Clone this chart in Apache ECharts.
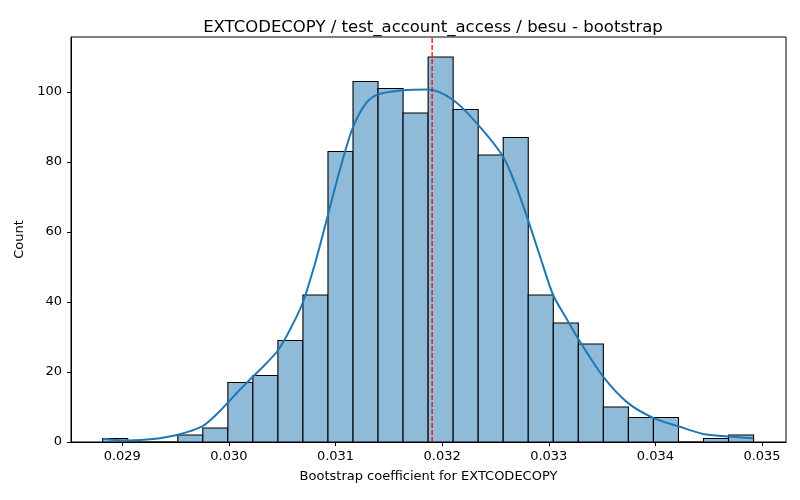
<!DOCTYPE html>
<html lang="en">

<head>
    <meta charset="UTF-8">
    <title>EXTCODECOPY bootstrap</title>
    <script src="https://cdn.jsdelivr.net/npm/echarts@6/dist/echarts.min.js"></script>
</head>

<body style="margin:0;">
    <div id="main" style="width: 800px; height: 500px;"></div>
    <script type="text/javascript">
        // histogram bins (26 bins, equal width)
        var binStart = 0.028816;
        var binWidth = 0.0002348;
        var counts = [1, 0, 0, 2, 4, 17, 19, 29, 42, 83, 103, 101, 94, 110, 95, 82, 87, 42, 34, 28, 10, 7, 7, 0, 1, 2];

        // kde curve
        var kdeX = [0.028816, 0.028932, 0.029053, 0.029288, 0.029523, 0.029635, 0.029757, 0.029870, 0.029992,
            0.030104, 0.030226, 0.030345, 0.030461, 0.030580, 0.030695, 0.030817, 0.030930, 0.031052, 0.031165,
            0.031287, 0.031399, 0.031634, 0.031869, 0.032103, 0.032338, 0.032572, 0.032694, 0.032807, 0.032929,
            0.033041, 0.033163, 0.033276, 0.033510, 0.033745, 0.033979, 0.034214, 0.034448, 0.034683, 0.034917];
        var kdeY = [0.9, 0.6, 0.45, 0.85, 2.1, 3.1, 4.6, 7.5, 11.3,
            15.0, 18.7, 22.3, 26.2, 32.5, 40, 52, 65, 79, 90,
            96.8, 99.3, 100.5, 100.7, 97.7, 90.6, 81.5, 73, 63.3, 52,
            42, 35.4, 29.5, 18.7, 11.1, 6.9, 4.5, 2.3, 1.6, 1.1];

        // mean line (dashed red)
        var meanValue = 0.031906;

        var xTicks = [0.029, 0.030, 0.031, 0.032, 0.033, 0.034, 0.035];
        var yTicks = [0, 20, 40, 60, 80, 100];

        var yMax = 115.7;

        var barData = counts.map(function (c, i) {
            return [binStart + i * binWidth, binStart + (i + 1) * binWidth, c];
        });
        var kdeData = kdeX.map(function (x, i) { return [x, kdeY[i]]; });

        var font = 'DejaVu Sans';
        var myChart = echarts.init(document.getElementById('main'));
        var option = {
            backgroundColor: '#fff',
            animation: false,
            title: {
                text: 'EXTCODECOPY / test_account_access / besu - bootstrap',
                left: 428, top: 14, textAlign: 'center',
                textStyle: { fontFamily: font, fontSize: 16.5, fontWeight: 'normal', color: '#000' }
            },
            grid: {
                left: 71, right: 14, top: 37, bottom: 58,
                outerBoundsMode: 'none',
                show: true, borderColor: '#000', borderWidth: 1
            },
            xAxis: {
                type: 'value',
                min: 0.028519, max: 0.035225,
                name: 'Bootstrap coefficient for EXTCODECOPY',
                nameLocation: 'middle', nameGap: 28,
                nameTextStyle: { fontFamily: font, fontSize: 13, color: '#000' },
                splitLine: { show: false },
                axisLine: { show: true, lineStyle: { color: '#000', width: 1 } },
                axisTick: { show: true, length: 4, customValues: xTicks, lineStyle: { color: '#000' } },
                axisLabel: {
                    customValues: xTicks, margin: 8,
                    fontFamily: font, fontSize: 13, color: '#000',
                    formatter: function (v) { return v.toFixed(3); }
                }
            },
            yAxis: {
                type: 'value',
                min: 0, max: yMax,
                name: 'Count',
                nameLocation: 'middle', nameGap: 43,
                nameTextStyle: { fontFamily: font, fontSize: 13, color: '#000' },
                splitLine: { show: false },
                axisLine: { show: true, lineStyle: { color: '#000', width: 1 } },
                axisTick: { show: true, length: 4, customValues: yTicks, lineStyle: { color: '#000' } },
                axisLabel: { customValues: yTicks, margin: 9, fontFamily: font, fontSize: 13, color: '#000' }
            },
            series: [
                {
                    type: 'custom',
                    data: barData,
                    encode: { x: [0, 1], y: 2 },
                    renderItem: function (params, api) {
                        var p0 = api.coord([api.value(0), 0]);
                        var p1 = api.coord([api.value(1), api.value(2)]);
                        return {
                            type: 'rect',
                            shape: { x: p0[0], y: p1[1], width: p1[0] - p0[0], height: p0[1] - p1[1] },
                            style: { fill: '#8fbbd9', stroke: '#000', lineWidth: 1.1 }
                        };
                    },
                    z: 2
                },
                {
                    type: 'line',
                    data: kdeData,
                    smooth: 0.3,
                    showSymbol: false,
                    lineStyle: { color: '#1f77b4', width: 2 },
                    z: 3
                },
                {
                    type: 'line',
                    data: [[meanValue, 0], [meanValue, yMax]],
                    showSymbol: false,
                    silent: true,
                    lineStyle: { color: '#ff0000', type: [5, 2], width: 1.3 },
                    z: 4
                }
            ]
        };
        myChart.setOption(option);
    </script>

</body>

</html>
